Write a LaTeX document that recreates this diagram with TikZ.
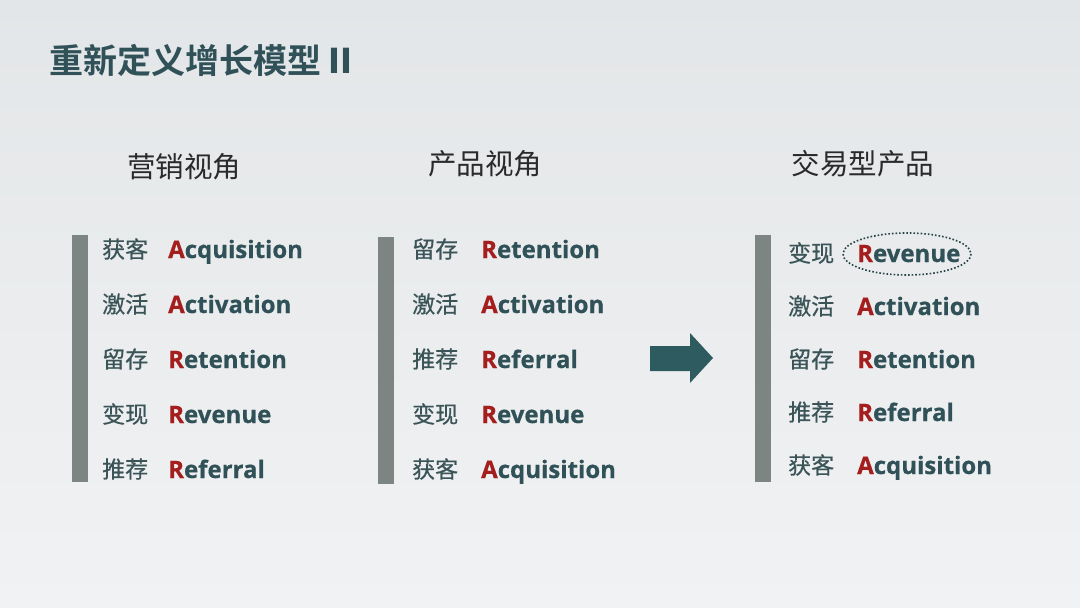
\documentclass[tikz,border=0pt]{standalone}
\usepackage{fontspec}
\setmainfont{Open Sans}
\newfontfamily\cjk{Noto Sans CJK SC}
\newfontfamily\cjkm{Noto Sans CJK SC}[FakeBold=0.6]
\newfontfamily\cjkb{Noto Sans CJK SC Bold}
\newfontfamily\en{Open Sans}[BoldFeatures={FakeBold=0.5}]
\definecolor{bgtop}{HTML}{E3E6E8}
\definecolor{bgbot}{HTML}{F1F2F3}
\definecolor{teal}{HTML}{2F5157}
\definecolor{zhcol}{HTML}{3A5458}
\definecolor{hdcol}{HTML}{2A2A2A}
\definecolor{barcol}{HTML}{7D8583}
\definecolor{redA}{HTML}{A51E1E}
\definecolor{arrowcol}{HTML}{2E5B5F}
\tikzset{
  zh/.style={anchor=west, inner sep=0pt, text=zhcol, font=\cjkm\fontsize{23}{23}\selectfont},
  eng/.style={anchor=base west, inner sep=0pt, text=teal, font=\en\bfseries\fontsize{24}{24}\selectfont},
  head/.style={anchor=center, inner sep=0pt, text=hdcol, font=\cjk\fontsize{28.5}{29}\selectfont},
  bar/.style={fill=barcol, draw=none},
}
\newcommand{\fl}[2]{\textcolor{redA}{#1}#2}
\begin{document}
\begin{tikzpicture}[x=1pt,y=-1pt]
\useasboundingbox (0,0) rectangle (1080,608);
\shade[top color=bgtop, bottom color=bgbot] (0,0) rectangle (1080,608);
\node[anchor=west, inner sep=0pt, text=teal, font=\cjkb\fontsize{34}{34}\selectfont] (title) at (49,60) {重新定义增长模型 \textbf{II}};
% headers
\node[head] (h1) at (184,167) {营销视角};
\node[head] (h2) at (485,164) {产品视角};
\node[head] (h3) at (863,164) {交易型产品};
% bars
\fill[bar] (72,235) rectangle (88,482);
\fill[bar] (378,237) rectangle (394,484);
\fill[bar] (755,235) rectangle (771,482);
% column 1
\node[zh] (a1) at (102,249) {获客};  \node[eng] (b1) at (168,258) {\fl{A}{cquisition}};
\node[zh] (a2) at (102,304) {激活};  \node[eng] (b2) at (168,313) {\fl{A}{ctivation}};
\node[zh] (a3) at (102,359) {留存};  \node[eng] (b3) at (168,368) {\fl{R}{etention}};
\node[zh] (a4) at (102,414) {变现};  \node[eng] (b4) at (168,423) {\fl{R}{evenue}};
\node[zh] (a5) at (102,469) {推荐};  \node[eng] (b5) at (168,478) {\fl{R}{eferral}};
% column 2
\node[zh] (c1) at (412,249) {留存};  \node[eng] (d1) at (481,258) {\fl{R}{etention}};
\node[zh] (c2) at (412,304) {激活};  \node[eng] (d2) at (481,313) {\fl{A}{ctivation}};
\node[zh] (c3) at (412,359) {推荐};  \node[eng] (d3) at (481,368) {\fl{R}{eferral}};
\node[zh] (c4) at (412,414) {变现};  \node[eng] (d4) at (481,423) {\fl{R}{evenue}};
\node[zh] (c5) at (412,469) {获客};  \node[eng] (d5) at (481,478) {\fl{A}{cquisition}};
% column 3
\node[zh] (e1) at (788,253) {变现};  \node[eng] (f1) at (857,262) {\fl{R}{evenue}};
\node[zh] (e2) at (788,306) {激活};  \node[eng] (f2) at (857,315) {\fl{A}{ctivation}};
\node[zh] (e3) at (788,359) {留存};  \node[eng] (f3) at (857,368) {\fl{R}{etention}};
\node[zh] (e4) at (788,412) {推荐};  \node[eng] (f4) at (857,421) {\fl{R}{eferral}};
\node[zh] (e5) at (788,465) {获客};  \node[eng] (f5) at (857,474) {\fl{A}{cquisition}};
% dotted ellipse
\draw[teal!80!black, line width=1.6pt, dotted] (907,254) ellipse [x radius=64, y radius=21];
% arrow
\fill[arrowcol] (650,346) -- (690,346) -- (690,333) -- (713,358) -- (690,383) -- (690,371) -- (650,371) -- cycle;
\end{tikzpicture}
\end{document}
